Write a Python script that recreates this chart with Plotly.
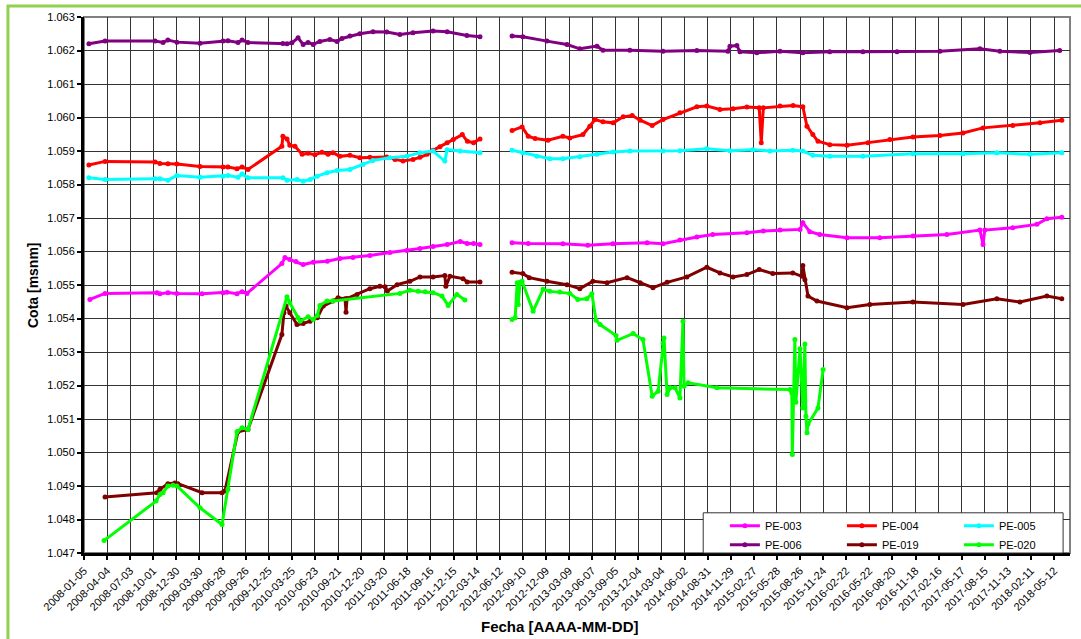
import plotly.graph_objects as go

# Fechas de las marcas del eje X (cada 90 dias, como en la hoja original)
TICKS_FECHA = [
    "2008-01-05", "2008-04-04", "2008-07-03", "2008-10-01", "2008-12-30",
    "2009-03-30", "2009-06-28", "2009-09-26", "2009-12-25", "2010-03-25",
    "2010-06-23", "2010-09-21", "2010-12-20", "2011-03-20", "2011-06-18",
    "2011-09-16", "2011-12-15", "2012-03-14", "2012-06-12", "2012-09-10",
    "2012-12-09", "2013-03-09", "2013-06-07", "2013-09-05", "2013-12-04",
    "2014-03-04", "2014-06-02", "2014-08-31", "2014-11-29", "2015-02-27",
    "2015-05-28", "2015-08-26", "2015-11-24", "2016-02-22", "2016-05-22",
    "2016-08-20", "2016-11-18", "2017-02-16", "2017-05-17", "2017-08-15",
    "2017-11-13", "2018-02-11", "2018-05-12",
]

# PE-003
pe003_fecha = [
    "2008-01-28", "2008-03-27", "2008-10-15", "2008-10-27", "2008-11-27", "2009-01-01",
    "2009-04-09", "2009-06-30", "2009-07-15", "2009-08-23", "2009-09-12", "2009-10-01",
    "2010-02-14", "2010-02-26", "2010-03-17", "2010-04-10", "2010-05-08", "2010-06-16",
    "2010-08-10", "2010-09-28", "2010-11-18", "2011-01-23", "2011-04-11", "2011-06-16",
    "2011-08-06", "2011-09-26", "2011-11-20", "2012-01-10", "2012-02-06", "2012-03-02",
    "2012-03-27", "2012-05-20",
    "2012-07-30", "2012-10-01", "2013-02-13", "2013-05-21", "2013-08-27", "2014-01-07",
    "2014-03-10", "2014-05-15", "2014-07-20", "2014-09-20", "2015-01-31", "2015-04-05",
    "2015-06-09", "2015-08-26", "2015-09-06", "2015-10-03", "2015-11-11", "2016-02-25",
    "2016-07-02", "2016-11-08", "2017-03-20", "2017-07-27", "2017-08-08", "2017-08-15",
    "2017-12-02", "2018-03-06", "2018-04-14", "2018-06-11",
]
pe003_cota = [
    1054.57, 1054.75, 1054.77, 1054.74, 1054.77, 1054.75,
    1054.74, 1054.77, 1054.78, 1054.74, 1054.80, 1054.75,
    1055.64, 1055.82, 1055.76, 1055.70, 1055.61, 1055.68,
    1055.71, 1055.79, 1055.82, 1055.88, 1055.97, 1056.03,
    1056.09, 1056.15, 1056.21, 1056.30, 1056.24, 1056.24,
    1056.21, None,
    1056.26, 1056.24, 1056.23, 1056.19, 1056.23, 1056.26,
    1056.23, 1056.34, 1056.43, 1056.51, 1056.56, 1056.61,
    1056.64, 1056.66, 1056.86, 1056.59, 1056.51, 1056.41,
    1056.41, 1056.46, 1056.51, 1056.64, 1056.21, 1056.64,
    1056.71, 1056.81, 1056.98, 1057.02,
]

# PE-004
pe004_fecha = [
    "2008-01-24", "2008-03-27", "2008-10-08", "2008-10-27", "2008-11-27", "2009-01-01",
    "2009-04-01", "2009-06-30", "2009-07-19", "2009-08-23", "2009-09-12", "2009-10-05",
    "2010-02-14", "2010-02-18", "2010-03-06", "2010-03-17", "2010-04-06", "2010-05-04",
    "2010-05-27", "2010-06-23", "2010-07-20", "2010-08-13", "2010-09-01", "2010-09-28",
    "2010-11-06", "2010-12-15", "2011-01-23", "2011-03-30", "2011-05-01", "2011-06-01",
    "2011-07-10", "2011-08-06", "2011-09-03", "2011-09-26", "2011-10-23", "2011-11-20",
    "2011-12-14", "2012-01-18", "2012-02-07", "2012-03-02", "2012-03-27", "2012-05-20",
    "2012-07-30", "2012-09-07", "2012-10-01", "2012-10-28", "2012-12-17", "2013-02-13",
    "2013-03-12", "2013-05-02", "2013-05-29", "2013-06-18", "2013-07-19", "2013-08-28",
    "2013-10-06", "2013-11-10", "2013-12-11", "2014-01-27", "2014-03-10", "2014-05-15",
    "2014-07-20", "2014-08-28", "2014-10-18", "2014-12-08", "2015-01-31", "2015-03-20",
    "2015-03-28", "2015-04-05", "2015-06-09", "2015-07-30", "2015-09-06", "2015-09-22",
    "2015-10-15", "2015-11-04", "2015-12-20", "2016-02-25", "2016-05-17", "2016-08-10",
    "2016-11-08", "2017-02-21", "2017-05-22", "2017-08-08", "2017-12-02", "2018-03-18",
    "2018-06-11",
]
pe004_cota = [
    1058.58, 1058.69, 1058.67, 1058.63, 1058.62, 1058.61,
    1058.54, 1058.52, 1058.52, 1058.47, 1058.52, 1058.45,
    1059.14, 1059.44, 1059.36, 1059.17, 1059.14, 1058.90,
    1058.93, 1058.89, 1058.96, 1058.90, 1058.95, 1058.84,
    1058.87, 1058.80, 1058.81, 1058.82, 1058.75, 1058.70,
    1058.75, 1058.81, 1058.90, 1059.02, 1059.13, 1059.25,
    1059.34, 1059.49, 1059.29, 1059.25, 1059.36, None,
    1059.61, 1059.72, 1059.44, 1059.37, 1059.32, 1059.44,
    1059.39, 1059.49, 1059.74, 1059.94, 1059.87, 1059.84,
    1060.02, 1060.06, 1059.92, 1059.76, 1059.94, 1060.14,
    1060.32, 1060.34, 1060.24, 1060.26, 1060.31, 1060.29,
    1059.25, 1060.29, 1060.34, 1060.36, 1060.32, 1059.74,
    1059.49, 1059.29, 1059.19, 1059.17, 1059.25, 1059.34,
    1059.42, 1059.46, 1059.54, 1059.69, 1059.76, 1059.84,
    1059.92,
]

# PE-005
pe005_fecha = [
    "2008-01-24", "2008-03-27", "2008-10-08", "2008-10-27", "2008-11-27", "2009-01-01",
    "2009-04-01", "2009-06-30", "2009-07-19", "2009-08-27", "2009-09-12", "2009-10-05",
    "2010-02-18", "2010-03-06", "2010-04-14", "2010-05-08", "2010-06-04", "2010-07-02",
    "2010-08-09", "2010-09-17", "2010-11-06", "2010-12-27", "2011-02-04", "2011-04-11",
    "2011-06-16", "2011-08-06", "2011-09-26", "2011-11-11", "2011-11-20", "2012-01-10",
    "2012-03-27", "2012-05-20",
    "2012-07-30", "2012-09-10", "2012-11-04", "2012-12-24", "2013-02-13", "2013-04-20",
    "2013-06-26", "2013-08-27", "2013-11-01", "2014-03-10", "2014-05-15", "2014-08-28",
    "2014-11-26", "2015-02-23", "2015-05-01", "2015-07-29", "2015-09-06", "2015-10-15",
    "2015-12-20", "2016-04-27", "2016-11-08", "2017-05-22", "2017-10-01", "2018-02-07",
    "2018-06-11",
]
pe005_cota = [
    1058.20, 1058.15, 1058.17, 1058.17, 1058.13, 1058.27,
    1058.22, 1058.25, 1058.27, 1058.22, 1058.31, 1058.20,
    1058.20, 1058.13, 1058.15, 1058.10, 1058.15, 1058.25,
    1058.35, 1058.42, 1058.45, 1058.60, 1058.72, 1058.80,
    1058.84, 1058.95, 1059.00, 1058.70, 1059.04, 1059.00,
    1058.95, None,
    1059.02, 1058.95, 1058.84, 1058.77, 1058.77, 1058.83,
    1058.90, 1058.97, 1059.00, 1059.00, 1059.01, 1059.07,
    1059.01, 1059.04, 1059.00, 1059.02, 1059.00, 1058.87,
    1058.84, 1058.84, 1058.92, 1058.92, 1058.95, 1058.90,
    1058.95,
]

# PE-006
pe006_fecha = [
    "2008-01-24", "2008-03-27", "2008-10-08", "2008-11-08", "2008-11-27", "2009-01-01",
    "2009-04-01", "2009-06-30", "2009-07-19", "2009-08-27", "2009-09-12", "2009-10-05",
    "2010-02-18", "2010-03-06", "2010-03-25", "2010-04-18", "2010-05-08", "2010-05-27",
    "2010-06-16", "2010-07-12", "2010-08-20", "2010-09-17", "2010-10-06", "2010-11-06",
    "2010-12-15", "2011-02-04", "2011-03-30", "2011-05-20", "2011-07-10", "2011-09-26",
    "2011-11-20", "2012-02-05", "2012-03-27", "2012-05-20",
    "2012-07-30", "2012-09-10", "2012-12-13", "2013-03-01", "2013-04-20", "2013-06-26",
    "2013-07-19", "2013-11-01", "2014-03-10", "2014-07-20", "2014-11-18", "2014-11-26",
    "2014-12-23", "2015-01-04", "2015-03-11", "2015-06-09", "2015-09-06", "2015-12-20",
    "2016-04-27", "2016-09-07", "2017-02-21", "2017-07-27", "2017-10-13", "2018-02-07",
    "2018-06-03",
]
pe006_cota = [
    1062.20, 1062.28, 1062.28, 1062.24, 1062.31, 1062.25,
    1062.22, 1062.28, 1062.29, 1062.24, 1062.31, 1062.24,
    1062.21, 1062.20, 1062.23, 1062.38, 1062.18, 1062.24,
    1062.18, 1062.27, 1062.33, 1062.27, 1062.36, 1062.43,
    1062.50, 1062.56, 1062.55, 1062.48, 1062.53, 1062.58,
    1062.56, 1062.45, 1062.41, None,
    1062.43, 1062.41, 1062.28, 1062.18, 1062.05, 1062.13,
    1062.01, 1062.01, 1061.98, 1062.00, 1061.98, 1062.13,
    1062.15, 1061.96, 1061.93, 1061.98, 1061.93, 1061.96,
    1061.96, 1061.96, 1061.98, 1062.05, 1061.98, 1061.94,
    1062.00,
]

# PE-019
pe019_fecha = [
    "2008-03-27", "2008-10-15", "2008-10-27", "2008-11-27", "2008-12-24", "2009-01-05",
    "2009-04-09", "2009-06-26", "2009-07-07", "2009-08-27", "2009-10-05", "2010-02-14",
    "2010-02-22", "2010-03-02", "2010-03-17", "2010-04-14", "2010-05-08", "2010-06-04",
    "2010-07-02", "2010-07-25", "2010-09-01", "2010-09-21", "2010-10-18", "2010-10-22",
    "2010-10-26", "2010-12-04", "2011-01-23", "2011-03-03", "2011-03-23", "2011-04-01",
    "2011-05-09", "2011-06-28", "2011-08-06", "2011-09-26", "2011-11-11", "2011-11-15",
    "2011-12-01", "2012-01-21", "2012-02-06", "2012-03-27", "2012-05-20",
    "2012-07-30", "2012-09-10", "2012-10-05", "2012-12-13", "2013-03-01", "2013-04-20",
    "2013-06-10", "2013-08-04", "2013-10-21", "2013-12-11", "2014-01-30", "2014-03-26",
    "2014-06-11", "2014-08-28", "2014-10-18", "2014-12-08", "2015-01-31", "2015-03-20",
    "2015-05-12", "2015-07-29", "2015-09-03", "2015-09-06", "2015-09-14", "2015-09-26",
    "2015-10-31", "2016-02-25", "2016-05-24", "2016-11-08", "2017-05-22", "2017-10-01",
    "2017-12-30", "2018-04-14", "2018-06-11",
]
pe019_cota = [
    1048.67, 1048.80, 1048.90, 1049.07, 1049.09, 1049.07,
    1048.80, 1048.80, 1048.85, 1050.62, 1050.69, 1053.52,
    1054.17, 1054.37, 1054.17, 1053.82, 1053.85, 1053.92,
    1054.02, 1054.37, 1054.52, 1054.62, 1054.59, 1054.19,
    1054.60, 1054.72, 1054.89, 1054.96, 1054.95, 1054.82,
    1055.01, 1055.11, 1055.24, 1055.24, 1055.28, 1054.96,
    1055.26, 1055.19, 1055.09, 1055.09, None,
    1055.38, 1055.34, 1055.22, 1055.11, 1055.01, 1054.89,
    1055.11, 1055.07, 1055.22, 1055.07, 1054.92, 1055.08,
    1055.24, 1055.53, 1055.36, 1055.24, 1055.31, 1055.46,
    1055.34, 1055.36, 1055.26, 1055.58, 1055.16, 1054.67,
    1054.52, 1054.32, 1054.42, 1054.49, 1054.42, 1054.59,
    1054.49, 1054.67, 1054.59,
]

# PE-020
pe020_fecha = [
    "2008-03-23", "2008-10-12", "2008-10-27", "2008-11-08", "2008-11-27", "2008-12-17",
    "2009-01-01", "2009-04-01", "2009-06-26", "2009-07-19", "2009-08-23", "2009-09-12",
    "2009-10-05", "2010-03-06", "2010-03-17", "2010-04-18", "2010-04-26", "2010-05-27",
    "2010-06-16", "2010-07-02", "2010-07-12", "2010-08-09", "2010-09-01", "2011-05-20",
    "2011-06-28", "2011-07-30", "2011-08-26", "2011-09-26", "2011-10-31", "2011-11-24",
    "2011-12-28", "2012-01-28", "2012-05-20",
    "2012-07-30", "2012-08-11", "2012-08-19", "2012-08-23", "2012-08-30", "2012-09-07",
    "2012-10-20", "2012-11-28", "2012-12-24", "2013-02-01", "2013-03-12", "2013-04-12",
    "2013-05-17", "2013-06-06", "2013-06-22", "2013-07-08", "2013-09-08", "2013-09-12",
    "2013-11-14", "2013-12-22", "2014-01-27", "2014-02-19", "2014-03-10", "2014-03-14",
    "2014-03-26", "2014-04-07", "2014-04-26", "2014-05-15", "2014-05-27", "2014-05-31",
    "2014-06-16", "2014-10-06", "2015-07-18", "2015-07-25", "2015-07-27", "2015-08-06",
    "2015-08-10", "2015-08-26", "2015-09-06", "2015-09-14", "2015-09-18", "2015-09-22",
    "2015-09-26", "2015-11-04", "2015-11-24",
]
pe020_cota = [
    1047.37, 1048.55, 1048.75, 1048.80, 1049.00, 1049.02,
    1049.00, 1048.35, 1047.85, 1048.90, 1050.62, 1050.74,
    1050.69, 1054.65, 1054.47, 1054.02, 1053.92, 1054.05,
    1053.97, 1054.09, 1054.39, 1054.52, 1054.52, 1054.75,
    1054.84, 1054.81, 1054.80, 1054.77, 1054.67, 1054.39,
    1054.72, 1054.55, None,
    1053.97, 1054.02, 1055.07, 1054.42, 1055.08, 1055.11,
    1054.22, 1054.87, 1054.81, 1054.79, 1054.75, 1054.57,
    1054.59, 1054.74, 1053.95, 1053.82, 1053.49, 1053.35,
    1053.55, 1053.37, 1051.68, 1051.83, 1053.27, 1053.42,
    1051.73, 1051.93, 1051.93, 1051.63, 1053.92, 1051.98,
    1052.08, 1051.93, 1051.88, 1051.78, 1049.94, 1053.37,
    1051.50, 1053.10, 1051.33, 1053.24, 1051.08, 1050.59,
    1050.84, 1051.33, 1052.48,
]

# nombre, fechas, cotas, color, columna de la leyenda
SERIES = [
    ("PE-003", pe003_fecha, pe003_cota, "#FF00FF", "c1"),
    ("PE-004", pe004_fecha, pe004_cota, "#FF0000", "c2"),
    ("PE-005", pe005_fecha, pe005_cota, "#00FFFF", "c3"),
    ("PE-006", pe006_fecha, pe006_cota, "#800080", "c1"),
    ("PE-019", pe019_fecha, pe019_cota, "#800000", "c2"),
    ("PE-020", pe020_fecha, pe020_cota, "#00FF00", "c3"),
]

FONT = "Arial, Liberation Sans, sans-serif"

fig = go.Figure()
for nombre, fechas, cotas, color, grupo in SERIES:
    fig.add_trace(go.Scatter(
        x=fechas, y=cotas, name=nombre, legendgroup=grupo,
        mode="lines+markers",
        line=dict(color=color, width=3),
        marker=dict(color=color, size=5),
    ))

# marco verde del grafico y borde gris del area de trazado
fig.add_shape(type="rect", xref="paper", yref="paper",
              x0=-0.0771, x1=1.03, y0=-0.17, y1=1.0205,
              line=dict(color="#92D050", width=3), layer="below")
fig.add_shape(type="rect", xref="paper", yref="paper",
              x0=0, x1=1, y0=0, y1=1,
              line=dict(color="#808080", width=2), layer="below")
# recuadro de la leyenda (la leyenda va encima, sin fondo)
fig.add_shape(type="rect", xref="paper", yref="paper",
              x0=0.628, x1=0.993, y0=0.0, y1=0.075,
              fillcolor="white", line=dict(color="#333", width=1), layer="above")

fig.add_annotation(text="<b>Cota [msnm]</b>", xref="paper", yref="paper",
                   x=-0.0517, y=0.5, xanchor="center", yanchor="middle",
                   textangle=-90, showarrow=False, font=dict(size=14))
fig.add_annotation(text="<b>Fecha [AAAA-MM-DD]</b>", xref="paper", yref="paper",
                   x=0.483, y=-0.138, xanchor="center", yanchor="middle",
                   showarrow=False, font=dict(size=15))

fig.update_layout(
    width=1081, height=639,
    margin=dict(l=84, r=11, t=17, b=86, autoexpand=False),
    paper_bgcolor="white", plot_bgcolor="white",
    separators=",.",
    font=dict(family=FONT, size=11, color="black"),
    showlegend=True,
    legend=dict(
        orientation="h", x=0.650, y=0.078, xanchor="left", yanchor="top",
        bgcolor="rgba(0,0,0,0)", borderwidth=0,
        font=dict(size=11), entrywidth=72, itemwidth=30,
        groupclick="toggleitem",
    ),
    xaxis=dict(
        type="date", range=["2008-01-05", "2018-07-13"],
        tickmode="array", tickvals=TICKS_FECHA, ticktext=TICKS_FECHA,
        tickangle=-45, tickfont=dict(size=11),
        showgrid=True, gridcolor="#333", gridwidth=1,
        showline=True, linecolor="black", linewidth=3,
        ticks="outside", ticklen=4, tickwidth=2, tickcolor="black",
        zeroline=False,
    ),
    yaxis=dict(
        range=[1047, 1063], dtick=1, tickformat=",d",
        tickfont=dict(size=11),
        showgrid=True, gridcolor="#333", gridwidth=1,
        showline=True, linecolor="black", linewidth=3,
        ticks="outside", ticklen=4, tickwidth=2, tickcolor="black",
        zeroline=False,
    ),
)

# sin el margen por defecto del body la figura queda en (0, 0)
fig.write_html("out.html", config={"displayModeBar": False},
               post_script="document.body.style.margin='0';")
